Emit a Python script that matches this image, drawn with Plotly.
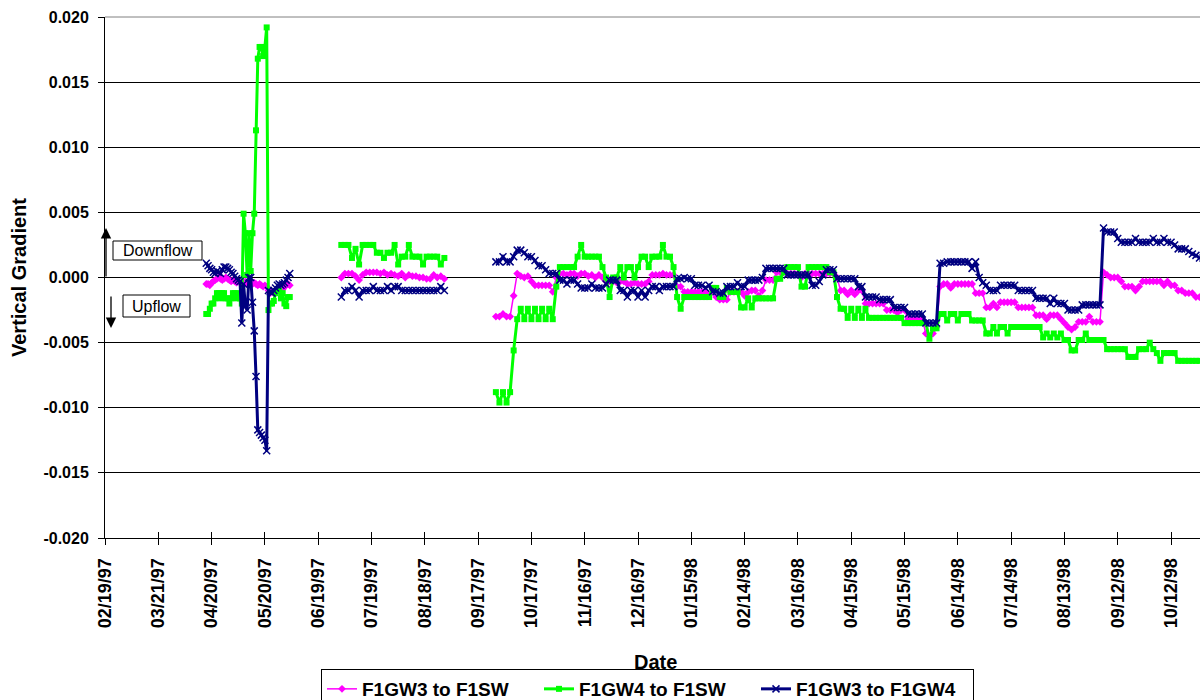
import pandas as pd
import plotly.graph_objects as go

# ---------------- data ----------------
series_names = ["F1GW3 to F1SW", "F1GW4 to F1SW", "F1GW3 to F1GW4"]
series_colors = ["#FF00FF", "#00FF00", "#000080"]

# segment start dates and sampling steps
seg1_start, seg1_step = "1997-04-17", "1D"
seg2_start, seg2_step = "1997-07-02", "2D"
seg3_start, seg3_step = "1997-09-27", "2D"

# F1GW3 to F1SW
gw3_sw_seg1 = [-0.0005, -0.0005, -0.0006, -0.0004, -0.0003, -0.0002, -0.0001, 0.0000, -0.0001, -0.0002,
               -0.0001, 0.0000, -0.0001, -0.0002, -0.0003, -0.0002, -0.0003, -0.0004, -0.0003, -0.0004,
               -0.0005, -0.0004, -0.0003, -0.0005, -0.0004, -0.0003, -0.0005, -0.0004, -0.0005, -0.0006,
               -0.0005, -0.0006, -0.0007, -0.0006, -0.0007, -0.0010, -0.0012, -0.0011, -0.0012, -0.0010,
               -0.0011, -0.0009, -0.0008, -0.0009, -0.0007, -0.0006, -0.0005, -0.0006]
gw3_sw_seg2 = [0.0000, 0.0003, 0.0003, 0.0003, 0.0001, -0.0002, 0.0002, 0.0004, 0.0004, 0.0004,
               0.0004, 0.0003, 0.0004, 0.0002, 0.0003, 0.0002, 0.0001, 0.0003, 0.0000, 0.0002,
               0.0001, 0.0001, 0.0000, 0.0000, -0.0001, -0.0001, 0.0002, 0.0000, 0.0001, -0.0001]
gw3_sw_seg3 = [-0.0030, -0.0030, -0.0028, -0.0030, -0.0030, -0.0014, 0.0003, 0.0001, 0.0000, 0.0001,
               -0.0003, -0.0006, -0.0006, -0.0006, -0.0006, -0.0006, -0.0011, 0.0000, 0.0003, 0.0003,
               0.0002, 0.0003, 0.0003, 0.0001, 0.0003, 0.0003, 0.0001, 0.0002, 0.0000, 0.0002,
               0.0000, -0.0003, -0.0003, -0.0003, -0.0004, -0.0003, -0.0003, -0.0005, -0.0005, -0.0004,
               -0.0005, -0.0005, -0.0005, -0.0003, 0.0002, 0.0002, 0.0002, 0.0003, 0.0002, 0.0002,
               0.0002, -0.0007, -0.0007, -0.0011, -0.0011, -0.0011, -0.0011, -0.0011, -0.0011, -0.0011,
               -0.0013, -0.0011, -0.0015, -0.0017, -0.0017, -0.0017, -0.0011, -0.0011, -0.0011, -0.0011,
               -0.0014, -0.0011, -0.0010, -0.0010, -0.0014, -0.0010, -0.0002, -0.0002, -0.0002, 0.0004,
               0.0004, 0.0004, 0.0003, 0.0003, 0.0003, 0.0003, 0.0000, 0.0003, 0.0003, 0.0003,
               0.0003, 0.0003, 0.0003, 0.0003, 0.0003, 0.0003, 0.0000, -0.0010, -0.0010, -0.0013,
               -0.0010, -0.0013, -0.0010, -0.0010, -0.0020, -0.0020, -0.0020, -0.0020, -0.0020, -0.0020,
               -0.0025, -0.0025, -0.0025, -0.0027, -0.0025, -0.0025, -0.0032, -0.0032, -0.0032, -0.0032,
               -0.0032, -0.0043, -0.0045, -0.0043, -0.0038, -0.0007, -0.0005, -0.0005, -0.0008, -0.0005,
               -0.0005, -0.0005, -0.0005, -0.0005, -0.0005, -0.0012, -0.0012, -0.0012, -0.0023, -0.0023,
               -0.0020, -0.0023, -0.0019, -0.0019, -0.0019, -0.0019, -0.0019, -0.0023, -0.0023, -0.0023,
               -0.0023, -0.0023, -0.0029, -0.0029, -0.0029, -0.0032, -0.0029, -0.0029, -0.0029, -0.0032,
               -0.0035, -0.0038, -0.0040, -0.0038, -0.0034, -0.0034, -0.0034, -0.0030, -0.0034, -0.0034,
               -0.0034, 0.0004, 0.0002, 0.0000, 0.0000, 0.0000, -0.0003, -0.0007, -0.0007, -0.0007,
               -0.0010, -0.0007, -0.0003, -0.0003, -0.0003, -0.0003, -0.0003, -0.0003, -0.0006, -0.0003,
               -0.0006, -0.0006, -0.0010, -0.0010, -0.0012, -0.0012, -0.0012, -0.0015, -0.0015, -0.0015]

# F1GW4 to F1SW
gw4_sw_seg1 = [-0.0028, -0.0028, -0.0024, -0.0020, -0.0020, -0.0016, -0.0012, -0.0012, -0.0016, -0.0012,
               -0.0012, -0.0016, -0.0016, -0.0020, -0.0016, -0.0012, -0.0012, -0.0016, -0.0012, -0.0016,
               -0.0020, 0.0049, 0.0034, 0.0002, 0.0034, 0.0005, 0.0034, 0.0049, 0.0113, 0.0168,
               0.0177, 0.0177, 0.0170, 0.0177, 0.0192, -0.0025, -0.0020, -0.0020, -0.0018, -0.0012,
               -0.0010, -0.0010, -0.0016, -0.0012, -0.0020, -0.0022, -0.0015, -0.0015]
gw4_sw_seg2 = [0.0025, 0.0025, 0.0025, 0.0015, 0.0022, 0.0010, 0.0025, 0.0025, 0.0025, 0.0025,
               0.0019, 0.0019, 0.0015, 0.0019, 0.0019, 0.0025, 0.0010, 0.0016, 0.0016, 0.0025,
               0.0016, 0.0016, 0.0016, 0.0010, 0.0016, 0.0016, 0.0016, 0.0016, 0.0010, 0.0015]
gw4_sw_seg3 = [-0.0088, -0.0096, -0.0088, -0.0096, -0.0088, -0.0056, -0.0032, -0.0024, -0.0032, -0.0024,
               -0.0032, -0.0024, -0.0032, -0.0024, -0.0032, -0.0024, -0.0032, -0.0007, 0.0008, 0.0008,
               0.0008, 0.0008, 0.0008, 0.0016, 0.0025, 0.0016, 0.0016, 0.0016, 0.0016, 0.0016,
               0.0008, 0.0000, -0.0015, 0.0000, 0.0000, 0.0008, 0.0000, 0.0008, 0.0008, 0.0000,
               0.0008, 0.0016, 0.0016, 0.0008, 0.0016, 0.0016, 0.0016, 0.0025, 0.0016, 0.0016,
               0.0008, -0.0015, -0.0024, -0.0015, -0.0015, -0.0015, -0.0015, -0.0015, -0.0015, -0.0015,
               -0.0015, -0.0008, -0.0008, -0.0015, -0.0015, -0.0008, -0.0011, -0.0011, -0.0011, -0.0023,
               -0.0023, -0.0016, -0.0023, -0.0016, -0.0016, -0.0016, -0.0016, -0.0016, -0.0016, -0.0001,
               -0.0001, 0.0004, 0.0008, 0.0008, 0.0008, 0.0008, -0.0007, -0.0007, 0.0008, 0.0008,
               0.0008, 0.0008, 0.0008, 0.0008, 0.0004, 0.0004, -0.0015, -0.0024, -0.0024, -0.0031,
               -0.0024, -0.0031, -0.0024, -0.0031, -0.0024, -0.0031, -0.0031, -0.0031, -0.0031, -0.0031,
               -0.0031, -0.0031, -0.0031, -0.0031, -0.0031, -0.0035, -0.0035, -0.0035, -0.0035, -0.0035,
               -0.0035, -0.0035, -0.0047, -0.0039, -0.0039, -0.0028, -0.0028, -0.0033, -0.0028, -0.0028,
               -0.0033, -0.0028, -0.0028, -0.0028, -0.0033, -0.0033, -0.0033, -0.0033, -0.0043, -0.0043,
               -0.0038, -0.0043, -0.0038, -0.0038, -0.0043, -0.0038, -0.0038, -0.0038, -0.0038, -0.0038,
               -0.0038, -0.0038, -0.0038, -0.0038, -0.0046, -0.0043, -0.0046, -0.0043, -0.0046, -0.0043,
               -0.0048, -0.0048, -0.0056, -0.0056, -0.0048, -0.0048, -0.0043, -0.0048, -0.0048, -0.0048,
               -0.0048, -0.0048, -0.0055, -0.0055, -0.0055, -0.0055, -0.0055, -0.0055, -0.0061, -0.0061,
               -0.0061, -0.0055, -0.0055, -0.0055, -0.0050, -0.0055, -0.0058, -0.0064, -0.0058, -0.0058,
               -0.0058, -0.0058, -0.0064, -0.0064, -0.0064, -0.0064, -0.0064, -0.0064, -0.0064, -0.0064]

# F1GW3 to F1GW4
gw3_gw4_seg1 = [0.0011, 0.0009, 0.0007, 0.0006, 0.0004, 0.0003, 0.0005, 0.0004, 0.0003, 0.0006,
                0.0008, 0.0008, 0.0007, 0.0006, 0.0004, 0.0003, 0.0001, -0.0001, -0.0002, -0.0003,
                -0.0035, -0.0005, -0.0022, -0.0025, 0.0000, 0.0000, -0.0019, -0.0041, -0.0076, -0.0117,
                -0.0119, -0.0121, -0.0123, -0.0125, -0.0133, -0.0010, -0.0011, -0.0012, -0.0010, -0.0008,
                -0.0006, -0.0005, -0.0006, -0.0005, -0.0004, -0.0002, 0.0000, 0.0003]
gw3_gw4_seg2 = [-0.0015, -0.0010, -0.0010, -0.0007, -0.0010, -0.0015, -0.0010, -0.0010, -0.0010, -0.0007,
                -0.0010, -0.0010, -0.0010, -0.0007, -0.0010, -0.0007, -0.0007, -0.0010, -0.0010, -0.0010,
                -0.0010, -0.0010, -0.0010, -0.0010, -0.0010, -0.0010, -0.0010, -0.0010, -0.0007, -0.0010]
gw3_gw4_seg3 = [0.0012, 0.0012, 0.0016, 0.0012, 0.0012, 0.0016, 0.0021, 0.0021, 0.0019, 0.0016,
                0.0016, 0.0013, 0.0009, 0.0009, 0.0006, 0.0003, 0.0003, 0.0003, -0.0002, -0.0002,
                -0.0005, -0.0002, -0.0002, -0.0005, -0.0008, -0.0008, -0.0008, -0.0005, -0.0008, -0.0008,
                -0.0008, -0.0005, -0.0002, -0.0002, -0.0002, -0.0010, -0.0010, -0.0015, -0.0010, -0.0010,
                -0.0015, -0.0010, -0.0015, -0.0010, -0.0007, -0.0007, -0.0010, -0.0007, -0.0007, -0.0007,
                -0.0007, -0.0001, -0.0001, 0.0000, -0.0001, -0.0001, -0.0006, -0.0006, -0.0006, -0.0008,
                -0.0006, -0.0011, -0.0011, -0.0012, -0.0012, -0.0007, -0.0007, -0.0007, -0.0004, -0.0007,
                -0.0007, -0.0002, -0.0002, -0.0002, -0.0002, 0.0000, 0.0007, 0.0007, 0.0007, 0.0007,
                0.0007, 0.0007, 0.0002, 0.0002, 0.0002, 0.0002, 0.0002, 0.0002, 0.0002, -0.0006,
                -0.0006, -0.0003, 0.0002, 0.0006, 0.0006, 0.0006, -0.0001, -0.0001, -0.0001, -0.0001,
                -0.0001, -0.0001, -0.0007, -0.0007, -0.0015, -0.0015, -0.0015, -0.0015, -0.0017, -0.0017,
                -0.0017, -0.0017, -0.0023, -0.0023, -0.0023, -0.0023, -0.0028, -0.0028, -0.0028, -0.0028,
                -0.0028, -0.0035, -0.0035, -0.0035, -0.0035, 0.0011, 0.0011, 0.0012, 0.0012, 0.0012,
                0.0012, 0.0012, 0.0012, 0.0012, 0.0007, 0.0012, 0.0000, -0.0004, -0.0006, -0.0010,
                -0.0010, -0.0010, -0.0006, -0.0006, -0.0006, -0.0006, -0.0006, -0.0010, -0.0010, -0.0010,
                -0.0010, -0.0010, -0.0016, -0.0016, -0.0016, -0.0016, -0.0020, -0.0016, -0.0020, -0.0020,
                -0.0020, -0.0025, -0.0025, -0.0025, -0.0025, -0.0021, -0.0021, -0.0021, -0.0021, -0.0021,
                -0.0021, 0.0038, 0.0035, 0.0035, 0.0035, 0.0030, 0.0027, 0.0027, 0.0027, 0.0027,
                0.0030, 0.0027, 0.0027, 0.0027, 0.0027, 0.0030, 0.0027, 0.0027, 0.0030, 0.0027,
                0.0027, 0.0025, 0.0022, 0.0022, 0.0022, 0.0020, 0.0018, 0.0017, 0.0015, 0.0015]

# axes
x_tick_labels = ["02/19/97", "03/21/97", "04/20/97", "05/20/97", "06/19/97", "07/19/97", "08/18/97",
                 "09/17/97", "10/17/97", "11/16/97", "12/16/97", "01/15/98", "02/14/98", "03/16/98",
                 "04/15/98", "05/15/98", "06/14/98", "07/14/98", "08/13/98", "09/12/98", "10/12/98"]
x_range = ["1997-02-19", "1998-10-28 07:00"]
y_ticks = [-0.020, -0.015, -0.010, -0.005, 0.000, 0.005, 0.010, 0.015, 0.020]
y_range = [-0.020, 0.020]

# ---------------- layout geometry (pixels) ----------------
W, H = 1200, 700
L, R, T, B = 105, 0, 17, 162
PW, PH = W - L - R, H - T - B


def px_x(px):
    return (px - L) / PW


def px_y(py):
    return (H - B - py) / PH


FONT = "Arial, 'Liberation Sans', sans-serif"


def build(segments, starts, steps):
    xs, ys = [], []
    for vals, st, sp in zip(segments, starts, steps):
        dates = pd.date_range(st, periods=len(vals), freq=sp)
        xs += list(dates) + [dates[-1]]
        ys += list(vals) + [None]
    return xs, ys


starts = [seg1_start, seg2_start, seg3_start]
steps = [seg1_step, seg2_step, seg3_step]
all_series = [
    [gw3_sw_seg1, gw3_sw_seg2, gw3_sw_seg3],
    [gw4_sw_seg1, gw4_sw_seg2, gw4_sw_seg3],
    [gw3_gw4_seg1, gw3_gw4_seg2, gw3_gw4_seg3],
]
line_widths = [1.5, 3, 3]
markers = [dict(symbol="diamond", size=6), dict(symbol="square", size=6), dict(symbol="x-thin-open", size=7)]

fig = go.Figure()
for name, color, segs, lw, mk in zip(series_names, series_colors, all_series, line_widths, markers):
    xs, ys = build(segs, starts, steps)
    mline = dict(width=1.5, color=color) if "thin" in mk["symbol"] else dict(width=0)
    fig.add_trace(go.Scatter(
        x=xs, y=ys, name=name, mode="lines+markers", connectgaps=False,
        line=dict(color=color, width=lw),
        marker=dict(color=color, symbol=mk["symbol"], size=mk["size"], line=mline),
    ))

tickvals = pd.to_datetime(x_tick_labels, format="%m/%d/%y")

# helper axis only for ticks crossing the x axis line
fig.add_trace(go.Scatter(x=[], y=[], xaxis="x2", showlegend=False, hoverinfo="skip"))

fig.update_layout(
    width=W, height=H,
    margin=dict(l=L, r=R, t=T, b=B, autoexpand=False),
    paper_bgcolor="white", plot_bgcolor="white",
    font=dict(family=FONT, color="black"),
    showlegend=True,
    legend=dict(
        orientation="h", xref="container", yref="container",
        x=321 / W, xanchor="left", y=1 - 669 / H, yanchor="top",
        bordercolor="black", borderwidth=1, bgcolor="white",
        font=dict(family=FONT, size=19, color="black", weight="bold"),
        entrywidth=172, tracegroupgap=0,
    ),
    xaxis=dict(
        type="date", range=x_range, tickvals=tickvals, ticktext=x_tick_labels,
        tickangle=-90, ticks="outside", ticklen=6, tickcolor="black", tickwidth=1,
        showline=True, linecolor="black", linewidth=1, showgrid=False, zeroline=False,
        tickfont=dict(family=FONT, size=18, color="black", weight="bold"),
        ticklabelstandoff=6,
    ),
    xaxis2=dict(
        type="date", range=x_range, overlaying="x", anchor="y", side="bottom",
        tickvals=tickvals, ticks="inside", ticklen=6, tickcolor="black", tickwidth=1,
        showticklabels=False, showgrid=False, showline=False, zeroline=False,
    ),
    yaxis=dict(
        range=y_range, tickvals=y_ticks, ticktext=[f"{v:.3f}" for v in y_ticks],
        ticks="outside", ticklen=6, tickcolor="black",
        showline=True, linecolor="black", linewidth=1,
        showgrid=True, gridcolor="black", gridwidth=1, zeroline=False,
        tickfont=dict(family=FONT, size=16, color="black", weight="bold"),
        ticklabelstandoff=6,
    ),
)

# plot area top border (grey)
fig.add_shape(type="line", xref="paper", yref="paper", x0=0, x1=1, y0=1, y1=1,
              line=dict(color="#808080", width=1))

# Downflow / Upflow boxes
fig.add_shape(type="rect", xref="paper", yref="paper",
              x0=px_x(113), x1=px_x(202), y0=px_y(260), y1=px_y(241),
              line=dict(color="black", width=1), fillcolor="white", layer="above")
fig.add_shape(type="rect", xref="paper", yref="paper",
              x0=px_x(123), x1=px_x(190), y0=px_y(317), y1=px_y(295),
              line=dict(color="black", width=1), fillcolor="white", layer="above")
fig.add_annotation(text="Downflow", xref="paper", yref="paper", x=px_x(157.5), y=px_y(250.5),
                   showarrow=False, xanchor="center", yanchor="middle",
                   font=dict(family=FONT, size=16, color="black"))
fig.add_annotation(text="Upflow", xref="paper", yref="paper", x=px_x(156.5), y=px_y(306),
                   showarrow=False, xanchor="center", yanchor="middle",
                   font=dict(family=FONT, size=16, color="black"))
# arrows
fig.add_annotation(text="", xref="paper", yref="paper", x=px_x(106), y=px_y(228),
                   ax=0, ay=50, showarrow=True, arrowhead=2, arrowsize=1.6, arrowwidth=1.3,
                   arrowcolor="black")
fig.add_annotation(text="", xref="paper", yref="paper", x=px_x(111), y=px_y(328),
                   ax=0, ay=-33, showarrow=True, arrowhead=2, arrowsize=1.6, arrowwidth=1.3,
                   arrowcolor="black")

# axis titles
fig.add_annotation(text="<b>Date</b>", xref="paper", yref="paper", x=px_x(655), y=px_y(662),
                   showarrow=False, xanchor="center", yanchor="middle",
                   font=dict(family=FONT, size=20, color="black"))
fig.add_annotation(text="<b>Vertical Gradient</b>", xref="paper", yref="paper", x=px_x(19),
                   y=px_y(278), showarrow=False, xanchor="center", yanchor="middle", textangle=-90,
                   font=dict(family=FONT, size=20, color="black"))

fig.write_html("out.html", config={"displayModeBar": False},
               post_script="document.body.style.margin='0';document.body.style.overflow='hidden';"
                           "window.dispatchEvent(new Event('resize'));")
